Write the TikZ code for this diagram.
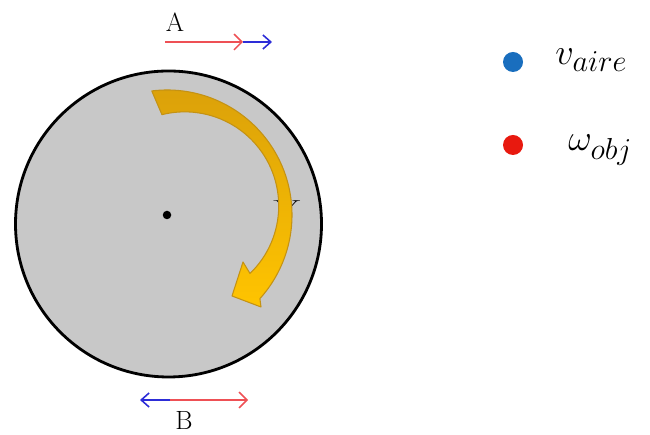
\documentclass[tikz,border=0pt]{standalone}
\usetikzlibrary{arrows.meta,calc}

\DeclareMathSizes{22}{22}{18}{14}

\definecolor{diskgray}{RGB}{200,200,200}
\definecolor{goldtop}{RGB}{218,160,10}
\definecolor{goldbottom}{RGB}{255,196,0}
\definecolor{goldedge}{RGB}{196,146,20}
\definecolor{airblue}{RGB}{25,110,190}
\definecolor{objred}{RGB}{232,25,15}
\definecolor{vecred}{RGB}{238,80,85}
\definecolor{vecblue}{RGB}{45,45,215}

\begin{document}
\begin{tikzpicture}[>=latex]

% --- Global TikZ Styles ---
\tikzset{
    disk/.style={
        fill=diskgray,
        draw=black,
        line width=1.6pt
    },
    hub/.style={
        circle,
        fill=black,
        inner sep=0pt,
        minimum size=0.17cm
    },
    turnarrow/.style={
        top color=goldtop,
        bottom color=goldbottom,
        draw=goldedge,
        line width=0.6pt,
        line join=round
    },
    redvec/.style={
        draw=vecred,
        line width=0.9pt,
        -{Straight Barb[length=4.5pt,width=9pt]}
    },
    bluevec/.style={
        draw=vecblue,
        line width=0.9pt,
        -{Straight Barb[length=4.5pt,width=8pt]}
    },
    pointlabel/.style={
        font=\fontsize{15}{18}\selectfont,
        inner sep=1pt
    },
    legenddot/.style={
        circle,
        inner sep=0pt,
        minimum size=0.4cm
    },
    legendtext/.style={
        font=\fontsize{22}{26}\selectfont,
        anchor=west,
        inner sep=0pt
    }
}

\useasboundingbox (0,0) rectangle (13,8.7);

% ==================================================
% --- Disk ---
% ==================================================

\draw[disk] (3.37,4.22) circle (3.06);
\node[hub] (ctr) at (3.34,4.40) {};

% small mark behind the arrow
\node[font=\small, xscale=2.3, inner sep=0pt] (vmark) at (5.74,4.58) {V};

% ==================================================
% --- Turning arrow ---
% ==================================================

\path[turnarrow]
    ($(ctr)+(97:2.5)$)
    arc[start angle=97, end angle=-42, radius=2.5]
    -- (5.22,2.56)   % lower barb
    -- (4.64,2.78)   % tip
    -- (4.86,3.46)   % upper barb
    -- (5.00,3.23)
    arc[start angle=-46, end angle=104, radius=1.88]
    -- cycle;

% ==================================================
% --- Point A ---
% ==================================================

\coordinate (a0) at (3.30,7.86);
\coordinate (a1) at (4.86,7.86);
\coordinate (a2) at (5.44,7.86);
\node[pointlabel] (A) at (3.50,8.26) {A};

\draw[redvec] (a0) -- (a1);
\draw[bluevec] (a1) -- (a2);

% ==================================================
% --- Point B ---
% ==================================================

\coordinate (b0) at (3.40,0.70);
\coordinate (b1) at (2.80,0.70);
\coordinate (b2) at (4.96,0.70);
\node[pointlabel] (B) at (3.68,0.28) {B};

\draw[bluevec] (b0) -- (b1);
\draw[redvec] (b0) -- (b2);

% ==================================================
% --- Legend ---
% ==================================================

\node[legenddot, fill=airblue] (dotair) at (10.26,7.46) {};
\node[legendtext] (txtair) at (11.10,7.50) {$v_{aire}$};

\node[legenddot, fill=objred] (dotobj) at (10.26,5.80) {};
\node[legendtext] (txtobj) at (11.36,5.70) {$\omega_{obj}$};

\end{tikzpicture}
\end{document}
